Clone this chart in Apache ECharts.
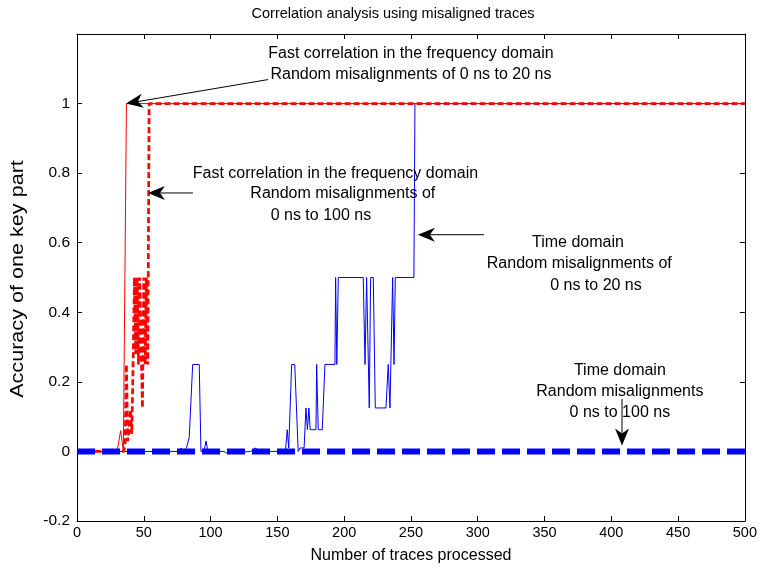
<!DOCTYPE html>
<html><head><meta charset="utf-8">
<script src="https://cdn.jsdelivr.net/npm/echarts@6/dist/echarts.min.js"></script>
<style>html,body{margin:0;padding:0;background:#fff}#c{width:760px;height:569px}</style>
</head><body><div id="c"></div>
<script>
// ---- data ----
const titleText = 'Correlation analysis using misaligned traces';
const xAxisName = 'Number of traces processed';
const yAxisName = 'Accuracy of one key part';

// Time domain, random misalignments 0 ns to 20 ns (thin blue)
const timeDomain20 = [[0,0],[77,0],[78,0.01],[79,0],[82,0.01],[84,0.04],[86.6,0.25],[91.5,0.25],[92.8,0],[95,0],[96.6,0.03],[98,0],[110,0],[112,-0.005],[130,0],[134,0.01],[135,0],[156,0],[157.4,0.0625],[158.5,0.01],[160.7,0.25],[163,0.25],[165.6,0],[167,0.01],[170,0.01],[171.4,0.125],[172.5,0.0625],[173.6,0.125],[174.6,0.0625],[178.9,0.0625],[179.4,0.25],[180.6,0.0625],[183.6,0.0625],[185.6,0.25],[193.1,0.25],[193.6,0.5],[194.5,0.25],[195.6,0.5],[214.3,0.5],[215.6,0.25],[216.8,0.5],[218.8,0.125],[219.8,0.5],[221.8,0.5],[223.3,0.125],[231.3,0.125],[233,0.25],[234.3,0.125],[236.3,0.5],[237.3,0.25],[238.3,0.5],[252.2,0.5],[253,1],[500,1]];

// Time domain, random misalignments 0 ns to 100 ns (thick dashed blue)
const timeDomain100 = [[0,0],[500,0]];

// Fast correlation in frequency domain, 0 ns to 20 ns (thin red)
const freq20 = [[0,0],[30,0],[32.7,0.06],[34.7,0],[37,1],[500,1]];

// Fast correlation in frequency domain, 0 ns to 100 ns (dashed red)
const freq100 = [[0,0],[35,0],[36,0.02],[37,0.25],[38,0.03],[39,0.06],[40,0.12],[41,0.05],[42,0.25],[43,0.5],[44,0.28],[45,0.5],[46,0.25],[47,0.5],[48,0.3],[49,0.125],[50,0.5],[51,0.25],[52,0.5],[53,0.25],[54,1],[500,1]];

// annotations (data coordinates)
const annTexts = [
  {x:250, y:1.143, t:'Fast correlation in the frequency domain'},
  {x:250, y:1.083, t:'Random misalignments of 0 ns to 20 ns'},
  {x:193.5, y:0.80, t:'Fast correlation in the frequency domain'},
  {x:199, y:0.74, t:'Random misalignments of'},
  {x:182.6, y:0.677, t:'0 ns to 100 ns'},
  {x:375, y:0.60, t:'Time domain'},
  {x:376, y:0.54, t:'Random misalignments of'},
  {x:388.5, y:0.477, t:'0 ns to 20 ns'},
  {x:406.4, y:0.231, t:'Time domain'},
  {x:406.4, y:0.171, t:'Random misalignments'},
  {x:406.4, y:0.111, t:'0 ns to 100 ns'}
];
const annArrows = [
  {from:[143,1.069], to:[36.7,1.0]},
  {from:[86.8,0.743], to:[53.1,0.743]},
  {from:[304.6,0.623], to:[255.2,0.623]},
  {from:[408,0.151], to:[408,0.017]}
];

const FONT = 'Liberation Sans, Arial, Helvetica, sans-serif';
const chart = echarts.init(document.getElementById('c'));
const axisCommon = {
  type:'value', min:0, max:500, interval:50,
  axisLine:{show:true,onZero:false,lineStyle:{color:'#000',width:1}},
  axisTick:{show:true,inside:true,length:5,lineStyle:{color:'#000'}},
  splitLine:{show:false}
};
const yCommon = {
  type:'value', min:-0.2, max:1.2, interval:0.2,
  axisLine:{show:true,onZero:false,lineStyle:{color:'#000',width:1}},
  axisTick:{show:true,inside:true,length:5,lineStyle:{color:'#000'}},
  splitLine:{show:false}
};
chart.setOption({
  animation:false,
  backgroundColor:'#fff',
  grid:{left:77,right:15,top:34,bottom:46,containLabel:false},
  xAxis:[
    Object.assign({},axisCommon,{position:'bottom',name:xAxisName,nameLocation:'middle',nameGap:27,
      nameTextStyle:{fontFamily:FONT,fontSize:16,color:'#000'},
      axisLabel:{fontFamily:FONT,fontSize:14.5,color:'#000',margin:4}}),
    Object.assign({},axisCommon,{position:'top',axisLabel:{show:false}})
  ],
  yAxis:[
    Object.assign({},yCommon,{position:'left',
      axisLabel:{fontFamily:FONT,fontSize:15.5,color:'#000',margin:7,
        formatter:function(v){ if(v>1.1) return ''; return String(Math.round(v*10)/10);} }}),
    Object.assign({},yCommon,{position:'right',axisLabel:{show:false}})
  ],
  series:[
    {type:'line',data:timeDomain20,showSymbol:false,lineStyle:{color:'#0000ff',width:1},z:2},
    {type:'line',data:freq20,showSymbol:false,lineStyle:{color:'#ff0000',width:1},z:3},
    {type:'line',data:freq100,showSymbol:false,lineStyle:{color:'#ff0000',width:2.7,type:[6,3]},z:4},
    {type:'line',data:timeDomain100,showSymbol:false,lineStyle:{color:'#0000ff',width:6,type:[18,7],cap:'butt'},z:5}
  ]
});

function px(p){ return chart.convertToPixel({gridIndex:0}, p); }
const graphics = [];
// title
graphics.push({type:'text',x:393,y:14,z:100,
  style:{text:titleText,fill:'#000',font:'14.5px '+FONT,textAlign:'center',textVerticalAlign:'middle'}});
// y axis name
graphics.push({type:'text',x:18,y:279,rotation:Math.PI/2,scaleX:1.2,scaleY:1,z:100,
  style:{text:yAxisName,fill:'#000',font:'18px '+FONT,textAlign:'center',textVerticalAlign:'middle'}});
annTexts.forEach(a=>{
  const p = px([a.x,a.y]);
  graphics.push({type:'text',x:p[0],y:p[1],z:100,
    style:{text:a.t,fill:'#000',font:'16px '+FONT,textAlign:'center',textVerticalAlign:'middle'}});
});
annArrows.forEach(a=>{
  const f = px(a.from), t = px(a.to);
  const dx=t[0]-f[0], dy=t[1]-f[1], len=Math.hypot(dx,dy);
  const ux=dx/len, uy=dy/len, nx=-uy, ny=ux;
  const L=17, W=7, N=12;
  const b=[t[0]-ux*N, t[1]-uy*N];
  graphics.push({type:'line',z:100,shape:{x1:f[0],y1:f[1],x2:b[0],y2:b[1]},style:{stroke:'#000',lineWidth:1}});
  graphics.push({type:'polygon',z:101,shape:{points:[
    [t[0],t[1]],
    [t[0]-ux*L+nx*W, t[1]-uy*L+ny*W],
    [b[0],b[1]],
    [t[0]-ux*L-nx*W, t[1]-uy*L-ny*W]
  ]},style:{fill:'#000'}});
});
chart.setOption({graphic:graphics});
</script>
</body></html>
